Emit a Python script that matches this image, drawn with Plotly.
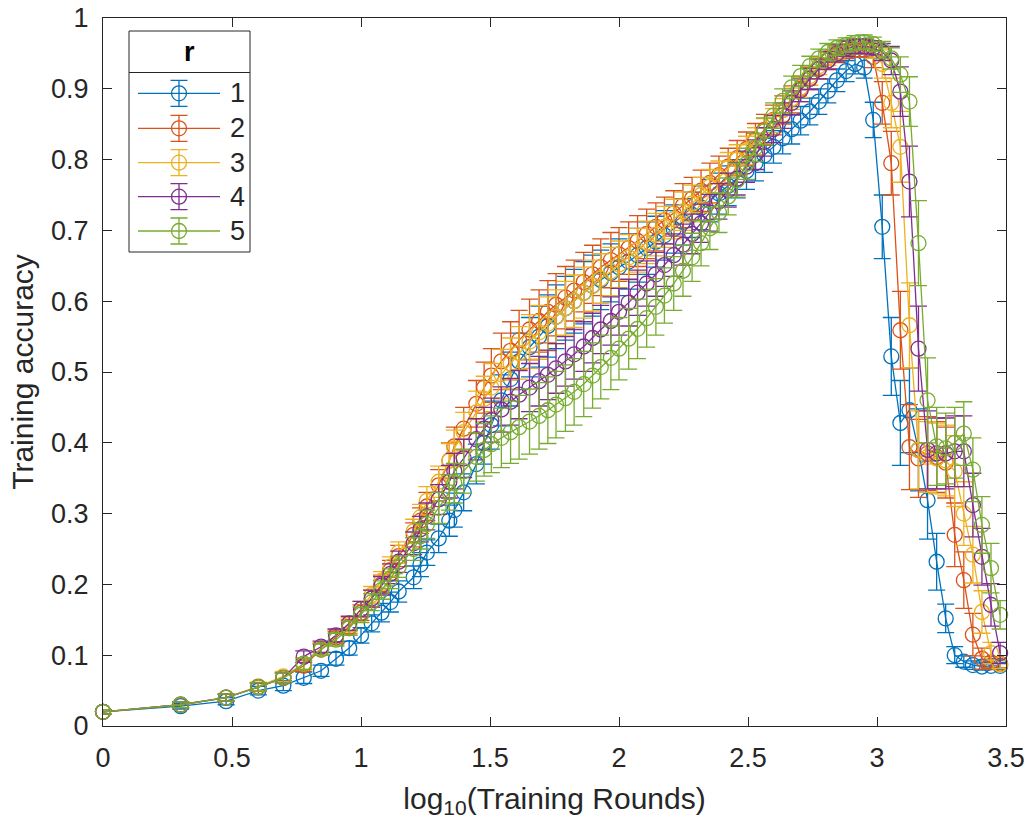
import numpy as np
import plotly.graph_objects as go

# ---------------- data ----------------
rounds = [1, 2, 3, 4, 5, 6, 7, 8, 9, 10, 11, 12, 13, 14, 16, 17, 18, 20, 22, 23,
          25, 28, 30, 32, 35, 38, 41, 45, 49, 53, 57, 62, 67, 73, 79, 85, 93, 100, 109, 118,
          128, 139, 150, 163, 177, 192, 208, 225, 244, 265, 287, 312, 338, 366, 397, 431, 467, 506, 549, 595,
          645, 699, 759, 822, 892, 967, 1048, 1136, 1232, 1336, 1448, 1570, 1703, 1846, 2001, 2170, 2353, 2551, 2766, 3000]

series_names = ["1", "2", "3", "4", "5"]

acc_r1 = [.020, .028, .035, .050, .057, .068, .078, .095, .110, .128,
          .145, .160, .175, .190, .210, .228, .245, .265, .290, .305,
          .330, .370, .400, .425, .460, .490, .515, .535, .550, .565,
          .578, .590, .600, .612, .622, .630, .640, .648, .656, .665,
          .675, .684, .693, .702, .712, .722, .732, .742, .752, .763,
          .773, .784, .795, .806, .818, .830, .843, .855, .868, .882,
          .897, .912, .925, .935, .930, .856, .705, .522, .428, .446,
          .390, .319, .232, .152, .100, .091, .086, .084, .085, .085]
acc_r2 = [.020, .030, .040, .055, .068, .085, .108, .125, .140, .160,
          .180, .200, .220, .240, .270, .290, .310, .340, .375, .395,
          .420, .455, .478, .495, .515, .530, .545, .560, .572, .585,
          .595, .605, .615, .627, .638, .648, .658, .666, .675, .685,
          .695, .705, .714, .724, .735, .745, .756, .767, .778, .790,
          .802, .815, .828, .842, .856, .870, .885, .900, .915, .928,
          .940, .948, .953, .955, .955, .945, .880, .795, .559, .394,
          .378, .385, .380, .372, .270, .206, .129, .095, .090, .088]
acc_r3 = [.020, .030, .040, .056, .070, .088, .110, .127, .143, .165,
          .185, .205, .225, .245, .275, .295, .318, .345, .375, .392,
          .415, .443, .462, .478, .497, .512, .527, .543, .556, .568,
          .578, .590, .600, .612, .622, .632, .642, .652, .662, .672,
          .683, .694, .705, .716, .727, .738, .750, .762, .775, .788,
          .800, .813, .826, .840, .855, .870, .886, .902, .918, .932,
          .944, .952, .957, .960, .960, .955, .935, .880, .818, .566,
          .390, .380, .378, .375, .360, .300, .242, .161, .103, .087]
acc_r4 = [.020, .030, .040, .055, .068, .098, .112, .128, .145, .165,
          .180, .198, .215, .232, .258, .278, .296, .320, .345, .360,
          .378, .405, .420, .432, .447, .458, .468, .478, .487, .496,
          .505, .515, .525, .536, .548, .560, .572, .585, .598, .612,
          .625, .638, .651, .665, .680, .695, .710, .725, .741, .757,
          .773, .790, .807, .825, .843, .862, .880, .898, .914, .928,
          .940, .950, .957, .960, .960, .958, .952, .940, .896, .769,
          .533, .390, .385, .385, .388, .388, .312, .239, .171, .103]
acc_r5 = [.020, .030, .040, .055, .068, .088, .108, .122, .138, .157,
          .175, .192, .208, .225, .250, .268, .285, .308, .330, .343,
          .360, .380, .390, .398, .407, .415, .422, .430, .438, .446,
          .454, .463, .472, .483, .495, .507, .520, .533, .547, .561,
          .576, .592, .608, .625, .643, .662, .682, .703, .725, .748,
          .771, .794, .817, .840, .862, .883, .902, .918, .932, .943,
          .952, .958, .962, .965, .966, .963, .955, .943, .920, .882,
          .682, .460, .395, .392, .400, .413, .362, .284, .223, .157]

err_r1 = [.003, .004, .005, .006, .007, .008, .008, .009, .010, .011,
          .012, .013, .014, .015, .016, .017, .018, .020, .022, .024,
          .026, .028, .030, .034, .036, .038, .040, .042, .043, .044,
          .045, .045, .045, .044, .043, .042, .041, .040, .039, .038,
          .037, .036, .035, .034, .033, .032, .031, .030, .029, .028,
          .027, .026, .025, .024, .023, .022, .021, .020, .019, .018,
          .017, .016, .015, .014, .015, .025, .045, .055, .060, .060,
          .058, .055, .040, .020, .012, .008, .006, .005, .005, .005]
err_r2 = [.003, .004, .005, .006, .007, .008, .008, .009, .010, .011,
          .012, .013, .014, .015, .017, .018, .020, .022, .025, .027,
          .030, .033, .036, .038, .040, .041, .042, .043, .044, .044,
          .044, .044, .043, .042, .041, .040, .039, .038, .037, .036,
          .035, .034, .033, .032, .031, .030, .029, .028, .027, .026,
          .025, .024, .023, .022, .021, .020, .019, .018, .016, .014,
          .012, .011, .010, .010, .010, .015, .030, .045, .055, .060,
          .055, .052, .050, .050, .045, .040, .030, .015, .008, .006]
err_r3 = [.003, .004, .005, .006, .007, .008, .008, .009, .010, .011,
          .012, .013, .014, .015, .017, .018, .020, .022, .024, .026,
          .028, .030, .032, .034, .035, .036, .037, .038, .038, .038,
          .038, .038, .037, .036, .036, .035, .034, .033, .032, .031,
          .030, .030, .029, .028, .027, .026, .025, .024, .023, .022,
          .021, .020, .019, .018, .017, .016, .015, .014, .013, .012,
          .011, .010, .010, .010, .010, .012, .020, .035, .050, .060,
          .055, .050, .050, .050, .050, .045, .040, .030, .015, .006]
err_r4 = [.003, .004, .005, .006, .007, .008, .008, .009, .010, .011,
          .012, .013, .014, .015, .016, .018, .019, .021, .023, .025,
          .027, .029, .030, .031, .032, .033, .034, .034, .035, .035,
          .035, .035, .035, .035, .035, .034, .034, .033, .033, .032,
          .032, .031, .030, .030, .029, .028, .027, .026, .025, .024,
          .023, .022, .021, .020, .019, .018, .017, .016, .015, .014,
          .013, .012, .011, .010, .010, .010, .012, .020, .035, .050,
          .060, .055, .050, .050, .050, .050, .045, .040, .030, .015]
err_r5 = [.003, .004, .005, .006, .007, .008, .008, .009, .010, .011,
          .012, .013, .014, .015, .016, .018, .020, .022, .025, .028,
          .031, .034, .037, .040, .042, .044, .045, .046, .047, .047,
          .047, .047, .047, .046, .046, .045, .045, .044, .043, .042,
          .041, .040, .039, .038, .036, .034, .032, .030, .028, .026,
          .024, .022, .020, .019, .018, .017, .016, .015, .014, .013,
          .012, .011, .010, .010, .010, .010, .012, .015, .025, .035,
          .060, .060, .055, .050, .050, .045, .045, .040, .035, .020]

colors = ["#0072BD", "#D95319", "#EDB120", "#7E2F8E", "#77AC30"]
accs = [acc_r1, acc_r2, acc_r3, acc_r4, acc_r5]
errs = [err_r1, err_r2, err_r3, err_r4, err_r5]

x_log = np.log10(np.array(rounds, dtype=float))

AX = "#262626"
FONT = "Liberation Sans, Arial, sans-serif"

fig = go.Figure()

for name, acc, err, col in zip(series_names, accs, errs, colors):
    fig.add_trace(go.Scatter(
        x=x_log, y=acc, mode="lines+markers", name=name,
        line=dict(color=col, width=1.3),
        marker=dict(symbol="circle-open", size=15, color=col, line=dict(width=1.3, color=col)),
        error_y=dict(type="data", array=err, visible=True, color=col, thickness=1.3, width=8.5),
        cliponaxis=False, showlegend=False,
    ))

# ---------------- custom legend (MATLAB style with title box) ----------------
PW, PH = 903.0, 708.0
L0, T0 = 103.0, 18.0
def px_x(p):
    return (p - L0) / PW
def px_y(p):
    return (T0 + PH - p) / PH

box_x0, box_x1 = px_x(129), px_x(250)
box_y0, box_y1 = px_y(252), px_y(31)
sep_y = px_y(72.5)
entry_y = [px_y(p) for p in (93.3, 128.3, 162.7, 196.7, 231.0)]
line_x0, line_x1, mark_x = px_x(138), px_x(220), px_x(179)
leg_err = 13.0 / PH

for name, col, ey in zip(series_names, colors, entry_y):
    fig.add_trace(go.Scatter(
        x=[line_x0, line_x1], y=[ey, ey], mode="lines", xaxis="x2", yaxis="y2",
        line=dict(color=col, width=1.3), showlegend=False, hoverinfo="skip"))
    fig.add_trace(go.Scatter(
        x=[mark_x], y=[ey], mode="markers", xaxis="x2", yaxis="y2",
        marker=dict(symbol="circle-open", size=15, color=col, line=dict(width=1.3, color=col)),
        error_y=dict(type="constant", value=leg_err, visible=True, color=col, thickness=1.3, width=8.5),
        showlegend=False, hoverinfo="skip", cliponaxis=False))
    fig.add_annotation(xref="paper", yref="paper", x=px_x(228), y=ey, text=name,
                       showarrow=False, xanchor="left", yanchor="middle",
                       font=dict(family=FONT, size=27, color=AX))

fig.add_shape(type="rect", xref="paper", yref="paper", x0=box_x0, x1=box_x1, y0=box_y0, y1=box_y1,
              line=dict(color=AX, width=1), fillcolor="rgba(0,0,0,0)", layer="above")
fig.add_shape(type="line", xref="paper", yref="paper", x0=box_x0, x1=box_x1, y0=sep_y, y1=sep_y,
              line=dict(color=AX, width=1), layer="above")
fig.add_annotation(xref="paper", yref="paper", x=(box_x0 + box_x1) / 2, y=(box_y1 + sep_y) / 2,
                   text="<b>r</b>", showarrow=False, xanchor="center", yanchor="middle",
                   font=dict(family=FONT, size=27, color="#000000"))

fig.update_layout(
    width=1030, height=827,
    margin=dict(l=103, r=24, t=18, b=101),
    paper_bgcolor="white", plot_bgcolor="white",
    font=dict(family=FONT, size=27, color=AX),
    xaxis=dict(
        range=[0, 3.5], tickmode="linear", tick0=0, dtick=0.5,
        ticks="inside", ticklen=9, tickwidth=1, tickcolor=AX,
        showline=True, linecolor=AX, linewidth=1, mirror="ticks",
        showgrid=False, zeroline=False,
        tickfont=dict(family=FONT, size=27, color=AX), ticklabelstandoff=8,
        title=dict(text="log<sub>10</sub>(Training Rounds)", font=dict(family=FONT, size=30, color=AX), standoff=15),
        automargin=False,
    ),
    yaxis=dict(
        range=[0, 1], tickmode="linear", tick0=0, dtick=0.1,
        ticks="inside", ticklen=9, tickwidth=1, tickcolor=AX,
        showline=True, linecolor=AX, linewidth=1, mirror="ticks",
        showgrid=False, zeroline=False,
        tickfont=dict(family=FONT, size=27, color=AX), ticklabelstandoff=8,
        title=dict(text="Training accuracy", font=dict(family=FONT, size=30, color=AX), standoff=8),
        automargin=False,
    ),
    xaxis2=dict(range=[0, 1], overlaying="x", visible=False, fixedrange=True),
    yaxis2=dict(range=[0, 1], overlaying="y", visible=False, fixedrange=True),
)

fig.write_html("out.html", config={"displayModeBar": False},
               post_script="document.body.style.margin='0px';document.body.style.overflow='hidden';")
